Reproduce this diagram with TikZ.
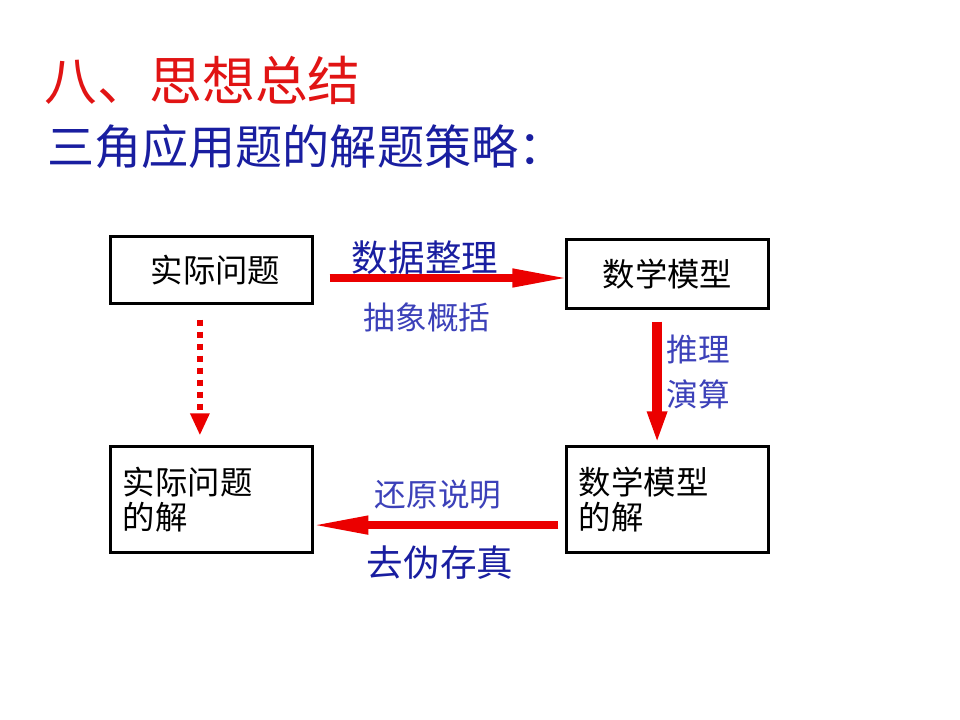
\documentclass[tikz,border=0pt]{standalone}
\usepackage{fontspec}
\usepackage{xcolor}
\usepackage{tikz}
\usetikzlibrary{positioning,arrows.meta,calc}
\newfontfamily\zh{Noto Sans CJK SC}
\definecolor{titlered}{RGB}{225,20,20}
\definecolor{deepblue}{RGB}{25,30,160}
\definecolor{softblue}{RGB}{60,65,185}
\definecolor{arrred}{RGB}{235,0,0}
\tikzset{
    stagebox/.style={rectangle,draw=black,line width=0.075cm,minimum width=5.025cm,inner sep=0pt,font=\zh\fontsize{23}{25}\selectfont},
    solbox/.style={stagebox,text width=4.425cm,inner xsep=0.3cm,align=left,minimum height=2.625cm},
    flowarr/.style={draw=arrred,line width=0.2cm,-{Triangle[length=1.45cm,width=0.42cm]}},
    downarr/.style={draw=arrred,line width=0.25cm,-{Triangle[length=0.8cm,width=0.45cm]}},
    dotarr/.style={draw=arrred,line width=0.15cm,dash pattern=on 0.15cm off 0.15cm,-{Triangle[length=0.55cm,width=0.45cm]}},
    steplabel/.style={text=softblue,font=\zh\fontsize{22.5}{32}\selectfont,align=center},
    biglabel/.style={text=deepblue,font=\zh\fontsize{26}{30}\selectfont},
}
\begin{document}
\begin{tikzpicture}[x=0.025cm,y=-0.025cm]
\useasboundingbox[fill=white] (0,0) rectangle (960,720);
% headings
\node[anchor=west,inner sep=0pt,text=titlered,font=\zh\fontsize{37.5}{40}\selectfont] (title) at (44,80) {八、思想总结};
\node[anchor=west,inner sep=0pt,text=deepblue,font=\zh\fontsize{33.5}{36}\selectfont] (sub) at (47,147) {三角应用题的解题策略：};
% four stages
\node[stagebox,minimum height=1.65cm] (real) at (211.5,270) {\hspace{0.2cm}实际问题};
\node[stagebox,minimum height=1.7cm] (model) at (667.5,274) {数学模型};
\node[solbox] (realsol) at (211.5,499.5) {实际问题\\的解};
\node[solbox] (modelsol) at (667.5,499.5) {数学模型\\的解};
% connectors
\draw[flowarr,shorten <=0.4cm,shorten >=-0.12cm] ([yshift=-0.2cm]real.east) -- ([yshift=-0.2cm]real.east -| model.west);
\draw[downarr,shorten <=0.3cm,shorten >=0.05cm] ([xshift=-0.26cm]model.south) -- ([xshift=-0.26cm]model.south |- modelsol.north);
\draw[flowarr,shorten <=0.18cm,shorten >=-0.08cm] ([yshift=-0.64cm]modelsol.west) -- ([yshift=-0.64cm]modelsol.west -| realsol.east);
\draw[dotarr,shorten <=0.38cm,shorten >=0.25cm] ([xshift=-0.29cm]real.south) -- ([xshift=-0.29cm]real.south |- realsol.north);
% labels
\node[biglabel] (collect) at (425,258) {数据整理};
\node[steplabel] (abstract) at (427,317) {抽象概括};
\node[steplabel] (reason) at (698,372) {推理\\演算};
\node[steplabel] (restore) at (438,495) {还原说明};
\node[biglabel] (check) at (440,563) {去伪存真};
\end{tikzpicture}
\end{document}
